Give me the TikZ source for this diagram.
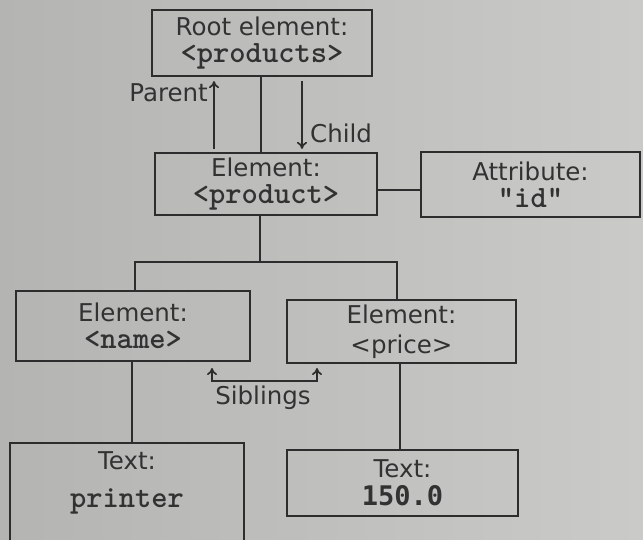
\documentclass[tikz,border=0pt]{standalone}
\usepackage{fontspec}
\setmainfont{DejaVu Sans}
\newfontfamily\djm{DejaVu Sans Mono}
\usetikzlibrary{arrows.meta}
\definecolor{bgl}{RGB}{180,180,178}
\definecolor{bgr}{RGB}{202,202,200}
\definecolor{linec}{RGB}{45,45,45}
\definecolor{txtc}{RGB}{50,50,50}
\newcommand{\mono}[1]{{\ttfamily\bfseries\fontsize{31}{30}\selectfont #1}}
\begin{document}
\begin{tikzpicture}[x=1pt,y=-1pt,
  box/.style={draw=linec, line width=2.2pt, align=center, inner sep=0pt, text=txtc,
    font=\fontsize{24.5}{27}\selectfont},
  conn/.style={draw=linec, line width=2.4pt},
  arr/.style={draw=linec, line width=1.7pt, -{To[length=7pt,width=10pt]}},
  arrb/.style={draw=linec, line width=1.7pt, {To[length=7pt,width=10pt]}-{To[length=7pt,width=10pt]}},
  lbl/.style={font=\fontsize{24.5}{27}\selectfont, text=txtc, inner sep=0pt}]
\shade[left color=bgl, right color=bgr] (0,0) rectangle (643,539);
\useasboundingbox (0,0) rectangle (643,539);

\node[box, minimum width=220pt, minimum height=66pt] (root) at (262,43)
  {Root element:\\\mono{<products>}};
\node[box, minimum width=222pt, minimum height=62pt] (prod) at (266,184)
  {Element:\\\mono{<product>}};
\node[box, minimum width=219pt, minimum height=65pt] (attr) at (530.5,184.5)
  {Attribute:\\\mono{"id"}};
\node[box, minimum width=234pt, minimum height=70pt] (name) at (133,326)
  {Element:\\\mono{<name>}};
\node[box, minimum width=229pt, minimum height=63pt] (price) at (401.5,331.5)
  {Element:\\[3pt]<price>};
\node[box, minimum width=234pt, minimum height=104pt] (printer) at (127,495) {};
\node[lbl, align=center] (printerlbl) at (127,483)
  {Text:\\[11pt]\mono{printer}};
\node[box, minimum width=231pt, minimum height=66pt] (num) at (402.5,483)
  {Text:\\[1pt]{\djm\bfseries\fontsize{27}{27}\selectfont 150.0}};

% root -- product
\coordinate (cl) at (261,0);
\coordinate (pa) at (214,0);
\coordinate (ch) at (302,0);
\draw[conn] (cl|-root.south) -- (cl|-prod.north);
\draw[arr] ([yshift=3pt]pa|-prod.north) -- ([yshift=-4pt]pa|-root.south);
\draw[arr] ([yshift=-4pt]ch|-root.south) -- ([yshift=3pt]ch|-prod.north);
\node[lbl, anchor=east] (parent) at (208,93) {Parent};
\node[lbl, anchor=west] (child) at (310,133) {Child};

% product -- attribute
\coordinate (ay) at (0,190);
\draw[conn] (prod.east|-ay) -- (attr.west|-ay);

% branch
\coordinate (br) at (260,262);
\coordinate (bl) at (135,262);
\coordinate (brr) at (397,262);
\draw[conn] (br|-prod.south) -- (br);
\draw[conn] (bl|-name.north) -- (bl) -- (brr) -- (brr|-price.north);

% to texts
\coordinate (nt) at (132,0);
\coordinate (pt) at (400,0);
\draw[conn] (nt|-name.south) -- (nt|-printer.north);
\draw[conn] (pt|-price.south) -- (pt|-num.north);

% siblings
\coordinate (sa) at (212,368);
\coordinate (sb) at (317,368);
\coordinate (sy) at (0,381);
\draw[arrb] (sa) -- (sa|-sy) -- (sb|-sy) -- (sb);
\node[lbl] (sib) at (263,398) {Siblings};
\end{tikzpicture}
\end{document}
